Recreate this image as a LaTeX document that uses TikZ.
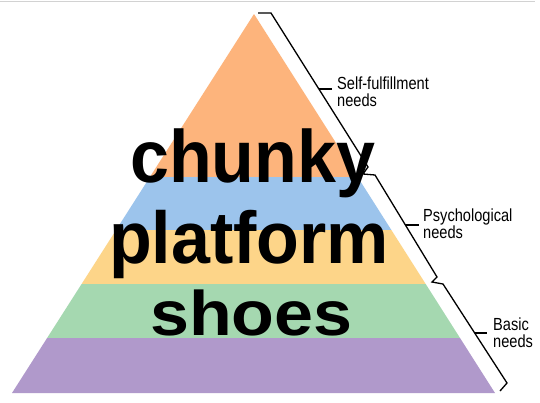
\documentclass[tikz,border=0pt]{standalone}
\usepackage{fontspec}
\setmainfont{Liberation Sans}
\definecolor{lvlorange}{RGB}{253,180,124}
\definecolor{lvlblue}{RGB}{156,196,236}
\definecolor{lvlyellow}{RGB}{253,213,137}
\definecolor{lvlgreen}{RGB}{165,216,176}
\definecolor{lvlpurple}{RGB}{176,153,203}
\begin{document}
\begin{tikzpicture}[x=1pt,y=-1pt,
  bracket/.style={line width=1.3pt, black, line join=miter},
  big/.style={inner sep=0, anchor=base west, font=\bfseries\fontsize{70}{72}\selectfont},
  lbl/.style={inner sep=0, anchor=base west, font=\fontsize{14.6}{13.75}\selectfont}]
\useasboundingbox (0,0) rectangle (540,402);
\fill[white] (0,0) rectangle (540,402);
\draw[gray!35, line width=1pt] (0,1.5) -- (535,1.5);
\coordinate (apex) at (254,14);
\coordinate (bl) at (12,393);
\coordinate (br) at (495,393);
\begin{scope}
\clip (apex) -- (bl) -- (br) -- cycle;
\fill[lvlorange] (0,0) rectangle (540,177);
\fill[lvlblue] (0,177) rectangle (540,230);
\fill[lvlyellow] (0,230) rectangle (540,284);
\fill[lvlgreen] (0,284) rectangle (540,338);
\fill[lvlpurple] (0,338) rectangle (540,394);
\end{scope}
% brackets
\coordinate (b0) at (258,13);
\coordinate (b1) at (271,13);
\coordinate (b2) at (368,167);
\coordinate (b3) at (363,174);
\coordinate (b4) at (375,175);
\coordinate (b5) at (437,277);
\coordinate (b6) at (432,282);
\coordinate (b7) at (443,284);
\coordinate (b8) at (507,383);
\coordinate (b9) at (500,391);
\draw[bracket] (b0) -- (b1) -- (b2) -- (b3) -- (b4) -- (b5) -- (b6) -- (b7) -- (b8) -- (b9);
\draw[bracket] (319,89) -- (332,89);
\draw[bracket] (405.4,225) -- (419,225);
\draw[bracket] (474.7,333) -- (487,333);
% labels
\node[lbl] (l1) at (337,89) {\scalebox{1}[1.2]{\begin{tabular}[t]{@{}l@{}}Self-fulfillment\\needs\end{tabular}}};
\node[lbl] (l2) at (423,221) {\scalebox{1}[1.2]{\begin{tabular}[t]{@{}l@{}}Psychological\\needs\end{tabular}}};
\node[lbl] (l3) at (493,330) {\scalebox{1}[1.2]{\begin{tabular}[t]{@{}l@{}}Basic\\needs\end{tabular}}};
% big words
\node[big] (w1) at (130,182) {\scalebox{1}[1.06]{chunky}};
\node[big] (w2) at (109,263) {\scalebox{1}[1.05]{platform}};
\node[big] (w3) at (150,335) {\scalebox{1}[0.9]{shoes}};
\end{tikzpicture}
\end{document}
